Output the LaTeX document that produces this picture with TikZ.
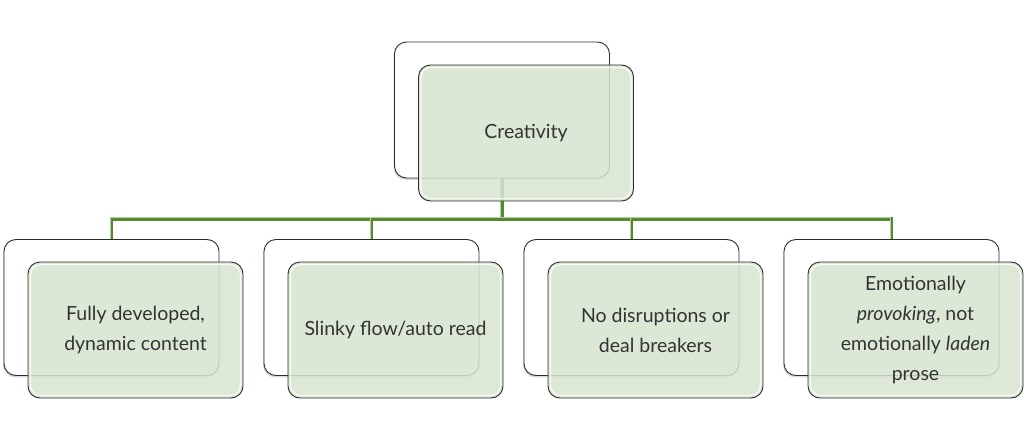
\documentclass[tikz,border=0pt]{standalone}
\usepackage{fontspec}
\setmainfont{Lato}
\usetikzlibrary{shadows}
\definecolor{frontfill}{RGB}{215,228,207}
\definecolor{conn}{RGB}{84,138,48}
\definecolor{connhi}{RGB}{180,210,160}
\definecolor{edge}{RGB}{45,45,45}
\tikzset{
  backbox/.style={draw=edge, line width=0.9pt, fill=white, rounded corners=12pt,
    minimum width=215pt, minimum height=136pt, inner sep=0pt,
    drop shadow={shadow xshift=-1pt, shadow yshift=-1.8pt, opacity=0.3}},
  frontbox/.style={draw=edge, line width=0.9pt, fill=frontfill, fill opacity=0.85,
    text opacity=1, rounded corners=12pt, minimum width=215pt, minimum height=136pt,
    inner sep=0pt, align=center, font=\fontsize{19.5}{30}\selectfont, text=black!80},
  gloss/.style={draw=white, opacity=0.8, line width=1.3pt, rounded corners=10pt},
  conline/.style={draw=conn, line width=3.2pt},
  connhl/.style={draw=connhi, line width=0.8pt},
}
\newcommand{\glossy}[1]{\draw[gloss] ([shift={(3,3)}]#1.north west) rectangle ([shift={(-3,-3)}]#1.south east);}
\begin{document}
\begin{tikzpicture}[x=1pt,y=-1pt]
\useasboundingbox (0,0) rectangle (1024,441);
% back boxes
\node[backbox] (tb) at (502,110) {};
\node[backbox] (b1) at (111.5,307.5) {};
\node[backbox] (b2) at (371.5,307.5) {};
\node[backbox] (b3) at (631.5,307.5) {};
\node[backbox] (b4) at (891.5,307.5) {};
\coordinate (bus) at (0,219);
% connectors
\foreach \b in {b1,b2,b3,b4}{
  \draw[conline] (tb.south) -- (tb.south |- bus) -| (\b.north);
}
\foreach \b in {b1,b2,b3,b4}{
  \draw[connhl] ([shift={(-1.4,0)}]tb.south) -- ([shift={(-1.4,-1.4)}]tb.south |- bus) -| ([shift={(-1.4,0)}]\b.north);
}
% front boxes
\node[frontbox] (tf) at (526,133) {Creativity};
\glossy{tf}
\node[frontbox] (f1) at (135.5,330) {Fully developed,\\dynamic content};
\glossy{f1}
\node[frontbox] (f2) at (395.5,330) {Slinky flow/auto read};
\glossy{f2}
\node[frontbox] (f3) at (655.5,330) {No disruptions or\\deal breakers};
\glossy{f3}
\node[frontbox] (f4) at (915.5,330) {Emotionally\\\textit{provoking}, not\\emotionally \textit{laden}\\prose};
\glossy{f4}
\end{tikzpicture}
\end{document}
